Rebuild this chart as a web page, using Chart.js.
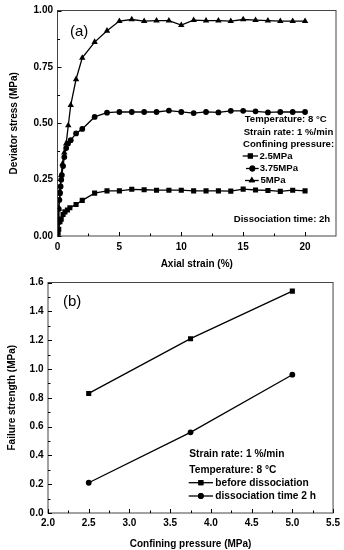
<!DOCTYPE html>
<html>
<head>
<meta charset="utf-8">
<script src="https://cdn.jsdelivr.net/npm/chart.js@4.4.0/dist/chart.umd.min.js"></script>
<style>
  html, body { margin: 0; padding: 0; background: #fff; }
  #wrapA { position: absolute; left: 0; top: 0; width: 344px; height: 272px; }
  #wrapB { position: absolute; left: 0; top: 272px; width: 344px; height: 278px; }
</style>
</head>
<body>
<div id="wrapA"><canvas id="chartA"></canvas></div>
<div id="wrapB"><canvas id="chartB"></canvas></div>
<script>
// (a) deviator stress vs axial strain, one curve per confining pressure
const strain25 = [0, 0.05, 0.1, 0.2, 0.3, 0.45, 0.6, 0.8, 1.0, 1.5, 2, 3, 4, 5, 6, 7, 8, 9, 10, 11, 12, 13, 14, 15, 16, 17, 18, 19, 20];
const stress25 = [0, 0.015, 0.03, 0.063, 0.075, 0.095, 0.107, 0.115, 0.125, 0.14, 0.158, 0.19, 0.2, 0.2, 0.207, 0.205, 0.203, 0.203, 0.203, 0.2, 0.2, 0.2, 0.199, 0.208, 0.204, 0.202, 0.198, 0.203, 0.2];

const strain375 = [0, 0.05, 0.1, 0.15, 0.2, 0.25, 0.3, 0.35, 0.45, 0.55, 0.7, 0.85, 1.07, 1.5, 2, 3, 4, 5, 6, 7, 8, 9, 10, 11, 12, 13, 14, 15, 16, 17, 18, 19, 20];
const stress375 = [0, 0.06, 0.12, 0.16, 0.19, 0.22, 0.25, 0.27, 0.31, 0.35, 0.39, 0.41, 0.425, 0.455, 0.475, 0.528, 0.547, 0.55, 0.55, 0.55, 0.55, 0.556, 0.55, 0.545, 0.55, 0.548, 0.555, 0.555, 0.553, 0.548, 0.55, 0.55, 0.55];

const strain5 = [0, 0.05, 0.1, 0.2, 0.3, 0.4, 0.55, 0.7, 0.87, 1.07, 1.5, 2, 3, 4, 5, 6, 7, 8, 9, 10, 11, 12, 13, 14, 15, 16, 17, 18, 19, 20];
const stress5 = [0, 0.06, 0.12, 0.2, 0.27, 0.32, 0.37, 0.41, 0.49, 0.58, 0.695, 0.79, 0.86, 0.91, 0.953, 0.96, 0.953, 0.955, 0.955, 0.935, 0.957, 0.955, 0.955, 0.953, 0.96, 0.957, 0.955, 0.953, 0.953, 0.953];

// (b) failure strength vs confining pressure
const pressure = [2.5, 3.75, 5];
const strengthBefore = [0.83, 1.21, 1.54];
const strengthAfter = [0.21, 0.56, 0.96];

const xTicksA = [0, 5, 10, 15, 20];

Chart.defaults.font.family = '"Liberation Sans", Arial, sans-serif';
Chart.defaults.font.weight = 'bold';
Chart.defaults.color = '#000';

function pairs(xs, ys) {
    return xs.map((x, i) => ({ x: x, y: ys[i] }));
}

function serie(label, data, style, radius) {
    return {
        label: label,
        data: data,
        borderColor: '#000',
        backgroundColor: '#000',
        borderWidth: 1.3,
        pointStyle: style,
        pointRadius: radius,
        pointBorderWidth: 0,
        showLine: true,
        tension: 0
    };
}

// ram runt ritytan, inåtvända tickmarks, textrutor och legend
const decor = {
    id: 'decor',
    afterDraw(chart, args, o) {
        const ctx = chart.ctx;
        const a = chart.chartArea;
        const x = chart.scales.x, y = chart.scales.y;
        ctx.save();
        ctx.strokeStyle = '#444';
        ctx.lineWidth = 1;
        ctx.strokeRect(a.left, a.top, a.right - a.left, a.bottom - a.top);

        ctx.strokeStyle = '#000';
        ctx.beginPath();
        const n = Math.round((o.xEnd - x.min) / o.xMinor);
        for (let i = 0; i <= n; i++) {
            const v = x.min + i * o.xMinor;
            const len = i % 2 === 0 ? 4 : 2.5;
            const px = Math.round(x.getPixelForValue(v)) + 0.5;
            ctx.moveTo(px, a.bottom);
            ctx.lineTo(px, a.bottom - len);
        }
        const m = Math.round((y.max - y.min) / o.yMinor);
        for (let i = 0; i <= m; i++) {
            const v = y.min + i * o.yMinor;
            const len = i % 2 === 0 ? 4 : 2.5;
            const py = Math.round(y.getPixelForValue(v)) + 0.5;
            ctx.moveTo(a.left, py);
            ctx.lineTo(a.left + len, py);
        }
        ctx.stroke();

        ctx.fillStyle = '#000';
        ctx.textBaseline = 'middle';
        ctx.textAlign = 'left';
        ctx.font = '15px "Liberation Sans", Arial, sans-serif';
        ctx.fillText(o.tag[0], o.tag[1], o.tag[2]);

        ctx.font = 'bold ' + o.fontSize + 'px "Liberation Sans", Arial, sans-serif';
        o.texts.forEach(t => ctx.fillText(t[0], t[1], t[2]));

        o.legend.forEach(l => {
            ctx.lineWidth = 1.3;
            ctx.beginPath();
            ctx.moveTo(l.x1, l.y);
            ctx.lineTo(l.x2, l.y);
            ctx.stroke();
            Chart.helpers.drawPoint(ctx, { pointStyle: l.style, radius: l.r, rotation: 0, borderWidth: 0 }, (l.x1 + l.x2) / 2, l.y);
            ctx.fill();
            ctx.fillText(l.text, l.tx, l.y);
        });
        ctx.restore();
    }
};

function axisTitle(text, pad) {
    return { display: true, text: text, font: { size: 10, weight: 'bold' }, padding: pad };
}

new Chart(document.getElementById('chartA'), {
    type: 'scatter',
    data: {
        datasets: [
            serie('2.5MPa', pairs(strain25, stress25), 'rect', 3.6),
            serie('3.75MPa', pairs(strain375, stress375), 'circle', 2.9),
            serie('5MPa', pairs(strain5, stress5), 'triangle', 3.7)
        ]
    },
    options: {
        responsive: true,
        maintainAspectRatio: false,
        animation: false,
        layout: { padding: { top: 10, right: 8, left: 0, bottom: 0 } },
        plugins: {
            legend: { display: false },
            tooltip: { enabled: false },
            decor: {
                xEnd: 20, xMinor: 2.5, yMinor: 0.125, fontSize: 9.6,
                tag: ['(a)', 70, 32],
                texts: [
                    ['Temperature: 8 °C', 244.7, 119],
                    ['Strain rate: 1 %/min', 243.7, 132],
                    ['Confining pressure:', 243, 144.5],
                    ['Dissociation time: 2h', 233.7, 219]
                ],
                legend: [
                    { text: '2.5MPa', style: 'rect', r: 3.6, x1: 242.7, x2: 258, tx: 259.5, y: 156 },
                    { text: '3.75MPa', style: 'circle', r: 2.9, x1: 246, x2: 258.7, tx: 259.7, y: 168.5 },
                    { text: '5MPa', style: 'triangle', r: 3.7, x1: 245, x2: 258.7, tx: 260.5, y: 180.5 }
                ]
            }
        },
        scales: {
            x: {
                type: 'linear', min: 0, max: 22.5,
                grid: { display: false, drawTicks: false }, border: { display: false },
                ticks: { stepSize: 5, padding: 5, font: { size: 10 } },
                afterBuildTicks: s => { s.ticks = xTicksA.map(v => ({ value: v })); },
                afterFit: s => { s.height = 36; },
                title: axisTitle('Axial strain (%)', { top: 0, bottom: 2 })
            },
            y: {
                min: 0, max: 1,
                grid: { display: false, drawTicks: false }, border: { display: false },
                ticks: { stepSize: 0.25, padding: 4.5, font: { size: 10 }, callback: v => v.toFixed(2) },
                afterFit: s => { s.width = 57.5; },
                title: axisTitle('Deviator stress (MPa)', { top: 8.5, bottom: 0 })
            }
        }
    },
    plugins: [decor]
});

new Chart(document.getElementById('chartB'), {
    type: 'scatter',
    data: {
        datasets: [
            serie('before dissociation', pairs(pressure, strengthBefore), 'rect', 3.6),
            serie('dissociation time 2 h', pairs(pressure, strengthAfter), 'circle', 2.9)
        ]
    },
    options: {
        responsive: true,
        maintainAspectRatio: false,
        animation: false,
        layout: { padding: { top: 9, right: 9, left: 0, bottom: 0 } },
        plugins: {
            legend: { display: false },
            tooltip: { enabled: false },
            decor: {
                xEnd: 5.5, xMinor: 0.25, yMinor: 0.1, fontSize: 10.2,
                tag: ['(b)', 63, 30],
                texts: [
                    ['Strain rate: 1 %/min', 189.3, 182],
                    ['Temperature: 8 °C', 189.3, 198.5]
                ],
                legend: [
                    { text: 'before dissociation', style: 'rect', r: 3.6, x1: 188.7, x2: 213, tx: 215.3, y: 210.7 },
                    { text: 'dissociation time 2 h', style: 'circle', r: 2.9, x1: 188.7, x2: 213, tx: 215.3, y: 224 }
                ]
            }
        },
        scales: {
            x: {
                type: 'linear', min: 2, max: 5.5,
                grid: { display: false, drawTicks: false }, border: { display: false },
                ticks: { stepSize: 0.5, padding: 4, font: { size: 10 }, callback: v => v.toFixed(1) },
                afterFit: s => { s.height = 37; },
                title: axisTitle('Confining pressure (MPa)', { top: 0, bottom: 0 })
            },
            y: {
                min: 0, max: 1.6,
                grid: { display: false, drawTicks: false }, border: { display: false },
                ticks: { stepSize: 0.2, padding: 4.5, font: { size: 10 }, callback: v => v.toFixed(1) },
                afterFit: s => { s.width = 48; },
                title: axisTitle('Failure strength (MPa)', { top: 6.5, bottom: 0 })
            }
        }
    },
    plugins: [decor]
});
</script>
</body>
</html>
